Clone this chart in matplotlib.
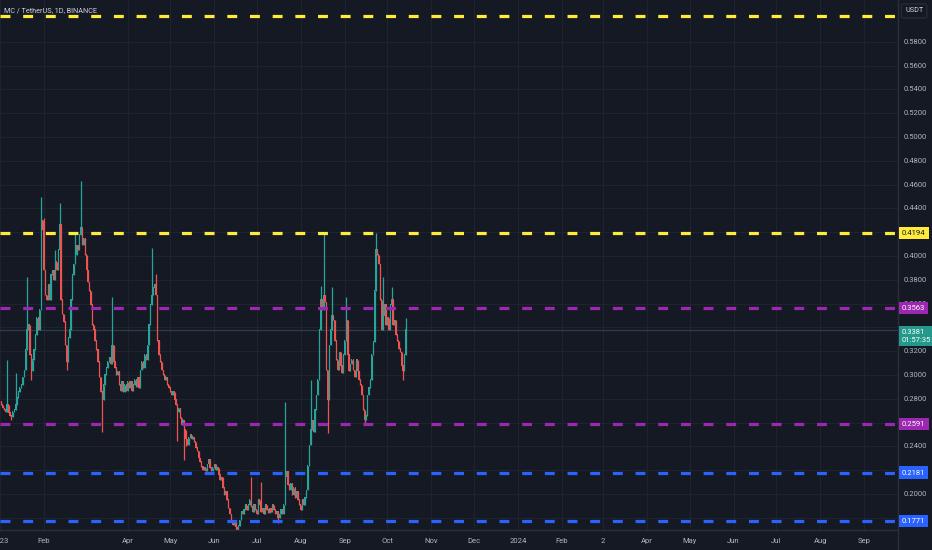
import numpy as np
import matplotlib.pyplot as plt

plt.rcParams['font.family'] = ['Roboto', 'DejaVu Sans']

# daily closes, MC/USDT, starting 2023-01-02 (day 1 = Jan 2)
closes = [
    0.275, 0.272, 0.271, 0.269, 0.275, 0.268, 0.266, 0.265, 0.269, 0.271,
    0.275, 0.281, 0.286, 0.289, 0.292, 0.298, 0.304, 0.321, 0.338, 0.342,
    0.317, 0.303, 0.313, 0.321, 0.334, 0.348, 0.338, 0.355, 0.430, 0.422,
    0.388, 0.367, 0.363, 0.376, 0.363, 0.384, 0.388, 0.380, 0.395, 0.388,
    0.405, 0.426, 0.363, 0.351, 0.345, 0.325, 0.311, 0.331, 0.338, 0.363,
    0.384, 0.393, 0.401, 0.409, 0.405, 0.418, 0.424, 0.409, 0.415, 0.401,
    0.388, 0.378, 0.371, 0.359, 0.342, 0.338, 0.329, 0.321, 0.311, 0.298,
    0.286, 0.279, 0.292, 0.300, 0.306, 0.311, 0.315, 0.309, 0.325, 0.311,
    0.306, 0.300, 0.303, 0.292, 0.287, 0.294, 0.286, 0.292, 0.287, 0.294,
    0.289, 0.294, 0.287, 0.292, 0.296, 0.290, 0.298, 0.289, 0.304, 0.311,
    0.306, 0.317, 0.313, 0.325, 0.342, 0.359, 0.367, 0.373, 0.376, 0.367,
    0.329, 0.317, 0.311, 0.304, 0.300, 0.296, 0.298, 0.292, 0.289, 0.286,
    0.283, 0.286, 0.279, 0.275, 0.269, 0.272, 0.264, 0.258, 0.262, 0.254,
    0.246, 0.241, 0.247, 0.250, 0.246, 0.247, 0.244, 0.239, 0.236, 0.230,
    0.227, 0.223, 0.220, 0.222, 0.219, 0.225, 0.229, 0.222, 0.219, 0.222,
    0.225, 0.220, 0.222, 0.216, 0.212, 0.214, 0.205, 0.199, 0.202, 0.195,
    0.188, 0.183, 0.178, 0.174, 0.177, 0.172, 0.170, 0.173, 0.178, 0.185,
    0.183, 0.187, 0.191, 0.187, 0.191, 0.195, 0.189, 0.185, 0.191, 0.187,
    0.183, 0.195, 0.191, 0.185, 0.188, 0.183, 0.191, 0.187, 0.184, 0.188,
    0.185, 0.191, 0.187, 0.183, 0.185, 0.180, 0.183, 0.187, 0.183, 0.191,
    0.214, 0.219, 0.208, 0.203, 0.209, 0.199, 0.205, 0.197, 0.202, 0.195,
    0.191, 0.187, 0.195, 0.191, 0.197, 0.203, 0.224, 0.241, 0.254, 0.262,
    0.252, 0.271, 0.283, 0.296, 0.338, 0.363, 0.355, 0.367, 0.361, 0.304,
    0.279, 0.325, 0.338, 0.350, 0.346, 0.329, 0.313, 0.304, 0.319, 0.308,
    0.302, 0.317, 0.329, 0.346, 0.317, 0.303, 0.309, 0.313, 0.304, 0.298,
    0.313, 0.303, 0.296, 0.292, 0.283, 0.271, 0.262, 0.266, 0.283, 0.289,
    0.296, 0.317, 0.328, 0.371, 0.405, 0.401, 0.393, 0.363, 0.338, 0.350,
    0.359, 0.342, 0.348, 0.338, 0.359, 0.363, 0.342, 0.346, 0.334, 0.329,
    0.322, 0.319, 0.308, 0.303, 0.317, 0.3381,
]
first_open = 0.278

# wick extremes (day -> price)
high_wicks = {5: 0.313, 11: 0.302, 19: 0.382, 29: 0.450, 31: 0.432, 39: 0.405,
              42: 0.445, 53: 0.420, 57: 0.463, 65: 0.350, 79: 0.366, 107: 0.407,
              110: 0.385, 177: 0.214, 184: 0.210, 201: 0.277, 219: 0.296,
              226: 0.375, 228: 0.4194, 234: 0.374, 244: 0.366, 265: 0.4194,
              270: 0.382, 276: 0.374, 286: 0.348}
low_wicks = {8: 0.262, 22: 0.296, 47: 0.304, 72: 0.252, 125: 0.245, 130: 0.229,
             131: 0.240, 166: 0.166, 167: 0.166, 196: 0.176, 231: 0.251,
             257: 0.2591, 284: 0.296}

levels = [0.6018, 0.4194, 0.3563, 0.2591, 0.2181, 0.1771]
level_colors = ['#ffeb3b', '#ffeb3b', '#9c27b0', '#9c27b0', '#2962ff', '#2962ff']
level_labels = ['', '0.4194', '0.3563', '0.2591', '0.2181', '0.1771']
label_text_colors = ['#131722', '#131722', 'white', 'white', 'white', 'white']

grid_ticks = [0.18, 0.20, 0.22, 0.24, 0.26, 0.28, 0.30, 0.32, 0.34, 0.36, 0.38,
              0.40, 0.42, 0.44, 0.46, 0.48, 0.50, 0.52, 0.54, 0.56, 0.58]
# labels that are not hidden behind the level / price boxes
price_labels = [0.20, 0.24, 0.28, 0.30, 0.32, 0.36, 0.38, 0.40,
                0.44, 0.46, 0.48, 0.50, 0.52, 0.54, 0.56, 0.58]

month_starts = ['2023-01', '2023-02', '2023-04', '2023-05', '2023-06', '2023-07',
                '2023-08', '2023-09', '2023-10', '2023-11', '2023-12', '2024-01',
                '2024-02', '2024-03', '2024-04', '2024-05', '2024-06', '2024-07',
                '2024-08', '2024-09']
month_labels = ['2023', 'Feb', 'Apr', 'May', 'Jun', 'Jul', 'Aug', 'Sep', 'Oct',
                'Nov', 'Dec', '2024', 'Feb', '2', 'Apr', 'May', 'Jun', 'Jul',
                'Aug', 'Sep']

bg = '#151924'
grid_c = '#1f2330'
up_c = '#26a69a'
down_c = '#ef5350'

closes = np.array(closes)
opens = np.concatenate([[first_open], closes[:-1]])
days = np.arange(1, len(closes) + 1)
highs = np.maximum(opens, closes)
lows = np.minimum(opens, closes)
for d, v in high_wicks.items():
    highs[d - 1] = max(highs[d - 1], v)
for d, v in low_wicks.items():
    lows[d - 1] = min(lows[d - 1], v)

fig = plt.figure(figsize=(9.32, 5.5), dpi=100, facecolor=bg)
ax = fig.add_axes([0, 20 / 550, 898 / 932, 530 / 550])
ax.set_facecolor(bg)

y_top, y_bot = 0.6152, 0.1698
x_left, x_right = 1.406, 632.9
ax.set_xlim(x_left, x_right)
ax.set_ylim(y_bot, y_top)

# grid
for p in grid_ticks:
    ax.axhline(p, color=grid_c, lw=0.8, zorder=0)
month_pos = [(np.datetime64(m + '-01') - np.datetime64('2023-01-01')).astype(int)
             for m in month_starts]
for mp in month_pos:
    ax.axvline(mp, color=grid_c, lw=0.8, zorder=0)

# candles
up = closes >= opens
colors = np.where(up, up_c, down_c)
ax.vlines(days, lows, highs, colors=colors, lw=0.9, zorder=3)
ax.bar(days, np.abs(closes - opens) + 0.0006, bottom=np.minimum(opens, closes),
       width=0.85, color=colors, edgecolor='none', zorder=3)

# current price line
ax.axhline(closes[-1], color='#2c3e44', lw=0.9, zorder=1)

# levels
for lv, c in zip(levels, level_colors):
    ax.axhline(lv, color=c, lw=2.3, dashes=(3.1, 4.0), zorder=4)

ax.set_xticks(month_pos)
ax.set_xticklabels(month_labels)
ax.set_yticks([])
ax.tick_params(axis='x', length=0, pad=6, labelsize=5.5, colors='#b2b5be')
for s in ax.spines.values():
    s.set_visible(False)
ax.axhline(y_bot, color='#2a2e39', lw=1, zorder=5, clip_on=False)

# right price scale
def fy(p):
    return (20 + (p - y_bot) / (y_top - y_bot) * 530) / 550

fig.add_artist(plt.Line2D([898 / 932, 898 / 932], [0, 1], color='#2a2e39', lw=1))
for p in price_labels:
    fig.text(904 / 932, fy(p), f'{p:.4f}', color='#b2b5be', fontsize=5.5,
             va='center', ha='left')

for lv, c, lab, tc in zip(levels, level_colors, level_labels, label_text_colors):
    if lab:
        fig.text(902 / 932, fy(lv), lab, color=tc, fontsize=5.5, va='center', ha='left',
                 bbox=dict(boxstyle='square,pad=0.4', fc=c, ec='none'), zorder=10)

fig.text(902 / 932, fy(closes[-1]) - 0.011, f'{closes[-1]:.4f}\n01:57:35', color='white',
         fontsize=5.5, va='center', ha='left', linespacing=1.35,
         bbox=dict(boxstyle='square,pad=0.4', fc='#22998a', ec='none'), zorder=10)

fig.text(905 / 932, 1 - 11 / 550, 'USDT', color='#d1d4dc', fontsize=5.2, va='center',
         ha='left', bbox=dict(boxstyle='round,pad=0.5,rounding_size=0.3', fc=bg,
                              ec='#2a2e39', lw=0.8))

fig.text(4 / 932, 1 - 11 / 550, 'MC / TetherUS, 1D, BINANCE', color='#d1d4dc',
         fontsize=5.2, va='center', ha='left')

fig.savefig('out.png', dpi=100, facecolor=bg)
